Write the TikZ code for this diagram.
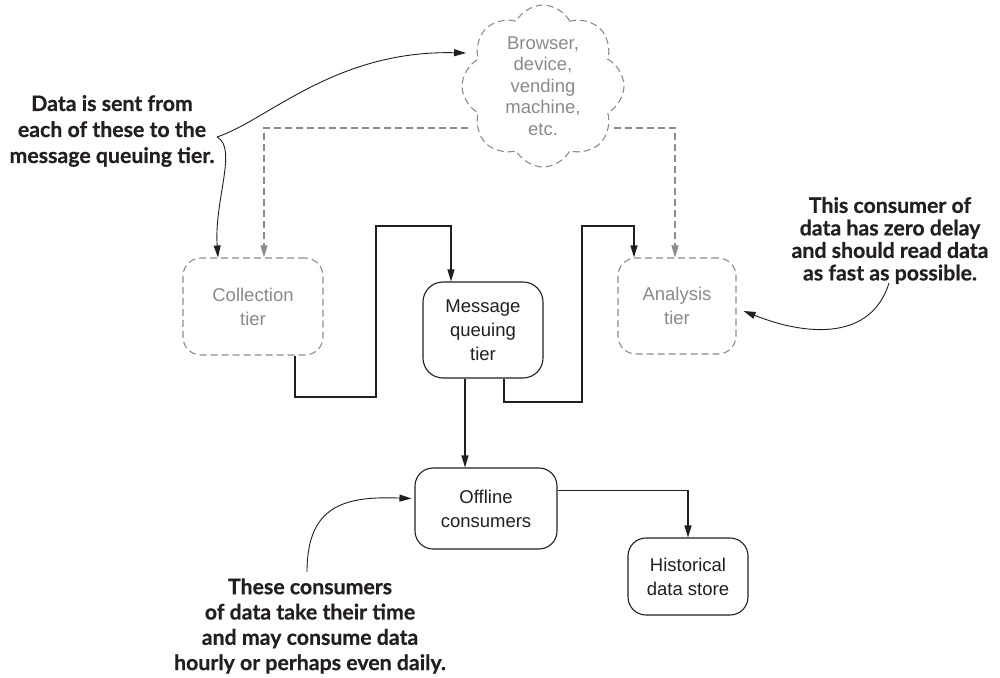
\documentclass[tikz,border=0pt]{standalone}
\usepackage{fontspec}
\usetikzlibrary{arrows.meta,shapes.symbols,calc}
\newfontfamily\boxfont{Liberation Sans}
\newfontfamily\notefont{Lato}[BoldFeatures={FakeBold=0.6}]
\definecolor{ink}{HTML}{231F20}
\definecolor{gline}{HTML}{8C8C8C}
\definecolor{gtext}{HTML}{8A8A8A}
\begin{document}
\begin{tikzpicture}[x=1pt,y=-1pt,
  tip/.style={-{Triangle[length=12pt,width=7pt]}},
  solidbox/.style={draw=ink,line width=1.1pt,rounded corners=18pt,fill=white,align=center,inner sep=0pt,
     font={\boxfont\fontsize{18.5}{24}\selectfont},text=ink},
  dashbox/.style={solidbox,draw=gline,dash pattern=on 7pt off 4pt,text=gtext},
  conn/.style={draw=ink,line width=1.1pt,tip},
  gconn/.style={draw=gline,line width=1.1pt,dash pattern=on 7pt off 4pt,-{Triangle[length=12pt,width=7pt]},color=gline},
  note/.style={align=center,text=ink,inner sep=0pt},
  thin/.style={draw=ink,line width=0.9pt}]
\useasboundingbox (0,0) rectangle (1000,677);

% cloud
\node[cloud,draw=gline,line width=1.1pt,dash pattern=on 7pt off 4pt,cloud puffs=8,cloud puff arc=125,aspect=1.0,
  minimum width=162pt,minimum height=162pt,inner sep=0pt] (cloud) at (543,86) {};
\node[align=center,font={\boxfont\fontsize{18.5}{21.5}\selectfont},text=gtext] (cloudtxt) at (543,86)
  {Browser,\\device,\\vending\\machine,\\etc.};

% boxes
\node[dashbox,minimum width=140pt,minimum height=97pt] (coll) at (253,306.5) {Collection\\tier};
\node[solidbox,minimum width=120pt,minimum height=96pt,rounded corners=20pt] (msg) at (483,330) {Message\\queuing\\tier};
\node[dashbox,minimum width=118pt,minimum height=96pt] (ana) at (677,306) {Analysis\\tier};
\node[solidbox,minimum width=142pt,minimum height=81pt] (off) at (486,508.5) {Offline\\consumers};
\node[solidbox,minimum width=120pt,minimum height=77pt] (hist) at (688,576.5) {Historical\\data store};

% notes
\node[note,font={\notefont\bfseries\fontsize{21.3}{26}\selectfont}] (lnote) at (112,131)
  {Data is sent from\\each of these to the\\message queuing tier.};
\node[note,font={\notefont\bfseries\fontsize{21.3}{22.5}\selectfont}] (rnote) at (890,240.5)
  {This consumer of\\data has zero delay\\and should read data\\as fast as possible.};
\node[note,font={\notefont\bfseries\fontsize{21.3}{25.3}\selectfont}] (bnote) at (310,626)
  {These consumers\\of data take their time\\and may consume data\\hourly or perhaps even daily.};

% helper coordinates
\coordinate (c1) at (376,397);
\coordinate (c2) at (376,226);
\coordinate (c3) at (582,402);
\coordinate (c4) at (582,226);
\coordinate (brace) at (217,137);
\coordinate (cloudin) at (466,53);
\coordinate (rstart) at (889,283);
\coordinate (bstart) at (307,572);
\coordinate (cl) at (468,128);
\coordinate (cr) at (614,128);

% dashed feeds from cloud
\draw[gconn] (cl) -| ([xshift=11pt]coll.north);
\draw[gconn] (cr) -| ([xshift=-2pt]ana.north);

% solid data flow
\draw[conn] ([xshift=42pt]coll.south) |- (c1) -- (c2) -| ([xshift=-32pt]msg.north);
\draw[conn] ([xshift=-18pt]msg.south) -- ([xshift=-18pt]msg.south |- off.north);
\draw[conn] ([xshift=21pt]msg.south) |- (c3) -- (c4) -| ([xshift=-43pt]ana.north);
\draw[conn] ([yshift=18pt]off.east) -| (hist.north);

% annotation pointers
\draw[thin,tip] (brace) .. controls (268,120) and (335,50) .. (cloudin);
\draw[thin,tip] (brace) .. controls (238,148) and (214,200) .. ([xshift=-35pt]coll.north);
\draw[thin,tip] (rstart) .. controls (872,338) and (812,338) .. ([xshift=7pt,yshift=-5pt]ana.east);
\draw[thin,tip] (bstart) .. controls (307,505) and (345,496) .. ([xshift=-3pt,yshift=10pt]off.west);
\end{tikzpicture}
\end{document}
